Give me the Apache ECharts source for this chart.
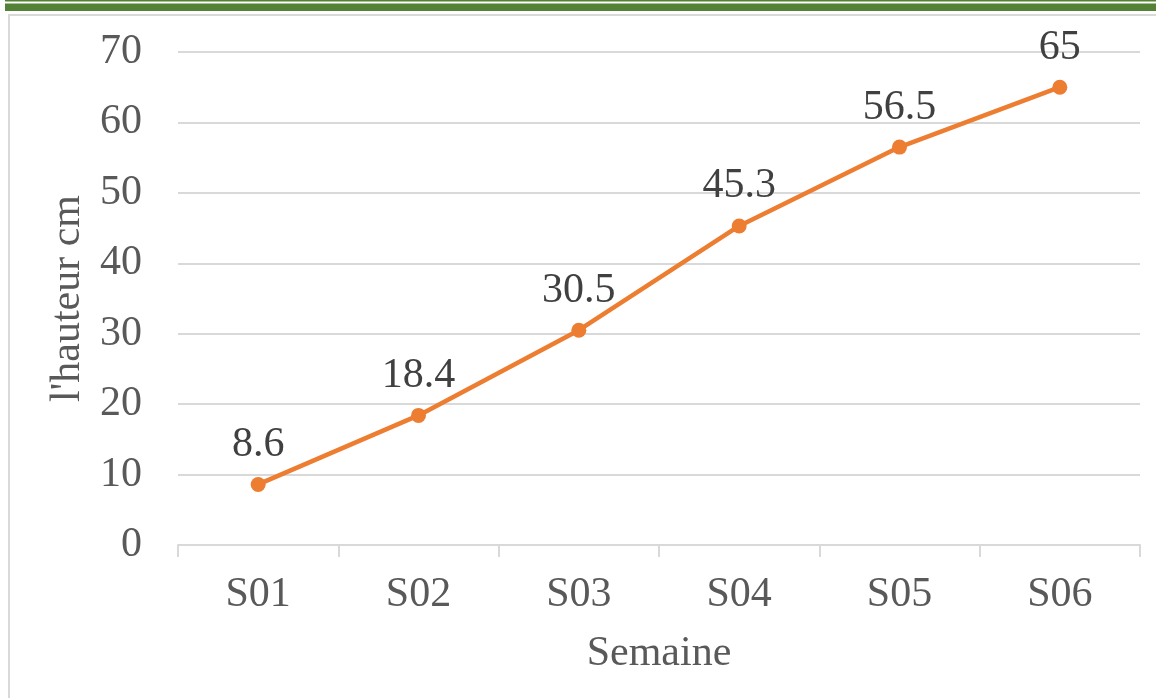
<!DOCTYPE html>
<html>
<head>
<meta charset="utf-8">
<script src="https://cdn.jsdelivr.net/npm/echarts@6/dist/echarts.min.js"></script>
<style>
  html, body { margin: 0; padding: 0; background: #fff; }
  #chart { width: 1156px; height: 698px; }
</style>
</head>
<body>
<div id="chart"></div>
<script>
// Weekly plant height (cm)
const weeks = ['S01', 'S02', 'S03', 'S04', 'S05', 'S06'];
const heights = [8.6, 18.4, 30.5, 45.3, 56.5, 65];
const yTicks = { min: 0, max: 70, interval: 10 };

const textColor = '#595959';
const gridColor = '#d9d9d9';
const font = 'Liberation Serif, Times New Roman, serif';
const fontSize = 42;

const chart = echarts.init(document.getElementById('chart'));
chart.setOption({
  backgroundColor: '#fff',
  animation: false,
  graphic: [
    // green header rules
    { type: 'rect', shape: { x: 5, y: 0, width: 1151, height: 1.5 }, style: { fill: '#538135' } },
    { type: 'rect', shape: { x: 5, y: 3.5, width: 1151, height: 7.5 }, style: { fill: '#538135' } },
    // chart frame
    { type: 'rect', shape: { x: 9, y: 15, width: 1160, height: 700 }, style: { fill: 'none', stroke: gridColor, lineWidth: 2 } }
  ],
  grid: { left: 178, right: 16, top: 52, bottom: 153 },
  xAxis: {
    type: 'category',
    data: weeks,
    boundaryGap: true,
    name: 'Semaine',
    nameLocation: 'middle',
    nameGap: 88,
    nameTextStyle: { color: textColor, fontFamily: font, fontSize: fontSize },
    axisLine: { show: true, lineStyle: { color: gridColor, width: 2 } },
    axisTick: { show: true, length: 12, lineStyle: { color: gridColor, width: 2 } },
    axisLabel: { color: textColor, fontFamily: font, fontSize: fontSize, margin: 29 },
    splitLine: { show: false }
  },
  yAxis: {
    type: 'value',
    min: yTicks.min,
    max: yTicks.max,
    interval: yTicks.interval,
    name: "l'hauteur cm",
    nameLocation: 'middle',
    nameGap: 89,
    nameTextStyle: { color: textColor, fontFamily: font, fontSize: fontSize },
    axisLine: { show: false },
    axisTick: { show: false },
    axisLabel: { color: textColor, fontFamily: font, fontSize: fontSize, margin: 36 },
    splitLine: { show: true, lineStyle: { color: gridColor, width: 2 } }
  },
  series: [{
    type: 'line',
    data: heights,
    symbol: 'circle',
    symbolSize: 15,
    lineStyle: { color: '#ED7D31', width: 4.5 },
    itemStyle: { color: '#ED7D31' },
    label: {
      show: true,
      position: 'top',
      distance: 11,
      color: '#404040',
      fontFamily: font,
      fontSize: fontSize
    }
  }]
});
</script>
</body>
</html>
